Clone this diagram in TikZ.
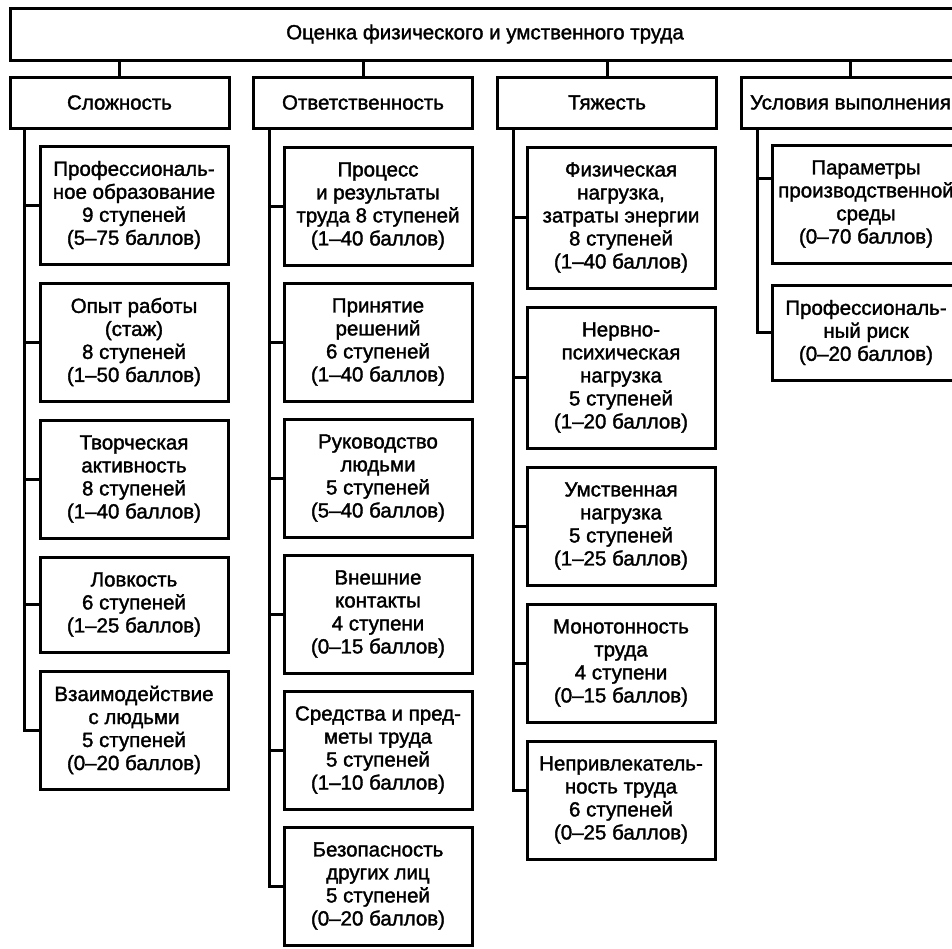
\documentclass[tikz,border=0pt]{standalone}
\usepackage{fontspec}
\setmainfont{Liberation Sans}
\newfontfamily\boxfont{Liberation Sans}[FakeBold=1.6]
\usepackage{tikz}
\usetikzlibrary{positioning}
\tikzstyle{title} = [rectangle, draw=black, line width=3pt, outer sep=0pt, inner sep=0pt, minimum width=950pt, minimum height=52pt, font=\boxfont\fontsize{20.5}{23}\selectfont]
\tikzstyle{group} = [rectangle, draw=black, line width=3pt, outer sep=0pt, inner sep=0pt, minimum width=219pt, minimum height=51pt, font=\boxfont\fontsize{20.5}{23}\selectfont]
\tikzstyle{item} = [rectangle, draw=black, line width=3pt, outer sep=0pt, inner xsep=2pt, inner ysep=2pt, minimum width=188pt, align=center, font=\boxfont\fontsize{20.5}{23}\selectfont]
\tikzstyle{link} = [line width=3pt]
\tikzset{rows/.style={minimum height=#1*23pt+26pt}}

\begin{document}
\begin{tikzpicture}[x=1pt, y=-1pt, node distance=19pt]
  \useasboundingbox (0,0) rectangle (952,948);
  \clip (0,0) rectangle (952,948);

  \node (top) [title] at (485,34) {Оценка физического и умственного труда};

  \node (cat1) [group] at (119.5,102.5) {Сложность};
  \node (cat2) [group] at (363,102.5) {Ответственность};
  \node (cat3) [group] at (607,102.5) {Тяжесть};
  \node (cat4) [group] at (850.5,102.5) {Условия выполнения};

  % Сложность
  \node (c1a) [item, rows=4, anchor=north west] at (40,146) {Профессиональ-\\ное образование\\9 ступеней\\(5–75 баллов)};
  \node (c1b) [item, rows=4, below=of c1a] {Опыт работы\\(стаж)\\8 ступеней\\(1–50 баллов)};
  \node (c1c) [item, rows=4, below=of c1b] {Творческая\\активность\\8 ступеней\\(1–40 баллов)};
  \node (c1d) [item, rows=3, below=of c1c] {Ловкость\\6 ступеней\\(1–25 баллов)};
  \node (c1e) [item, rows=4, below=of c1d] {Взаимодействие\\с людьми\\5 ступеней\\(0–20 баллов)};

  % Ответственность
  \node (c2a) [item, rows=4, anchor=north west] at (284,147) {Процесс\\и результаты\\труда 8 ступеней\\(1–40 баллов)};
  \node (c2b) [item, rows=4, below=18pt of c2a] {Принятие\\решений\\6 ступеней\\(1–40 баллов)};
  \node (c2c) [item, rows=4, below=18pt of c2b] {Руководство\\людьми\\5 ступеней\\(5–40 баллов)};
  \node (c2d) [item, rows=4, below=18pt of c2c] {Внешние\\контакты\\4 ступени\\(0–15 баллов)};
  \node (c2e) [item, rows=4, below=18pt of c2d] {Средства и пред-\\меты труда\\5 ступеней\\(1–10 баллов)};
  \node (c2f) [item, rows=4, below=18pt of c2e] {Безопасность\\других лиц\\5 ступеней\\(0–20 баллов)};

  % Тяжесть
  \node (c3a) [item, rows=5, anchor=north west] at (527,147) {Физическая\\нагрузка,\\затраты энергии\\8 ступеней\\(1–40 баллов)};
  \node (c3b) [item, rows=5, below=of c3a] {Нервно-\\психическая\\нагрузка\\5 ступеней\\(1–20 баллов)};
  \node (c3c) [item, rows=4, below=of c3b] {Умственная\\нагрузка\\5 ступеней\\(1–25 баллов)};
  \node (c3d) [item, rows=4, below=of c3c] {Монотонность\\труда\\4 ступени\\(0–15 баллов)};
  \node (c3e) [item, rows=4, below=of c3d] {Непривлекатель-\\ность труда\\6 ступеней\\(0–25 баллов)};

  % Условия выполнения
  \node (c4a) [item, rows=4, anchor=north west] at (772,145) {Параметры\\производственной\\среды\\(0–70 баллов)};
  \node (c4b) [item, rows=3, below=22pt of c4a] {Профессиональ-\\ный риск\\(0–20 баллов)};

  % links from the title
  \foreach \c in {cat1,cat2,cat3,cat4}
    \draw[link] (\c.north) -- (\c.north |- top.south);

  % spines
  \coordinate (s1) at ([xshift=14pt]cat1.south west);
  \coordinate (s2) at ([xshift=16pt]cat2.south west);
  \coordinate (s3) at ([xshift=16pt]cat3.south west);
  \coordinate (s4) at ([xshift=16pt]cat4.south west);

  \foreach \b in {c1a,c1b,c1c,c1d,c1e}
    \draw[link] (s1) |- (\b.west);
  \foreach \b in {c2a,c2b,c2c,c2d,c2e,c2f}
    \draw[link] (s2) |- (\b.west);
  \foreach \b in {c3a,c3b,c3c,c3d}
    \draw[link] (s3) |- (\b.west);
  \draw[link] (s3) |- ([yshift=10pt]c3e.west);
  \draw[link] (s4) |- ([yshift=26pt]c4a.west);
  \draw[link] (s4) |- (c4b.west);
\end{tikzpicture}
\end{document}
